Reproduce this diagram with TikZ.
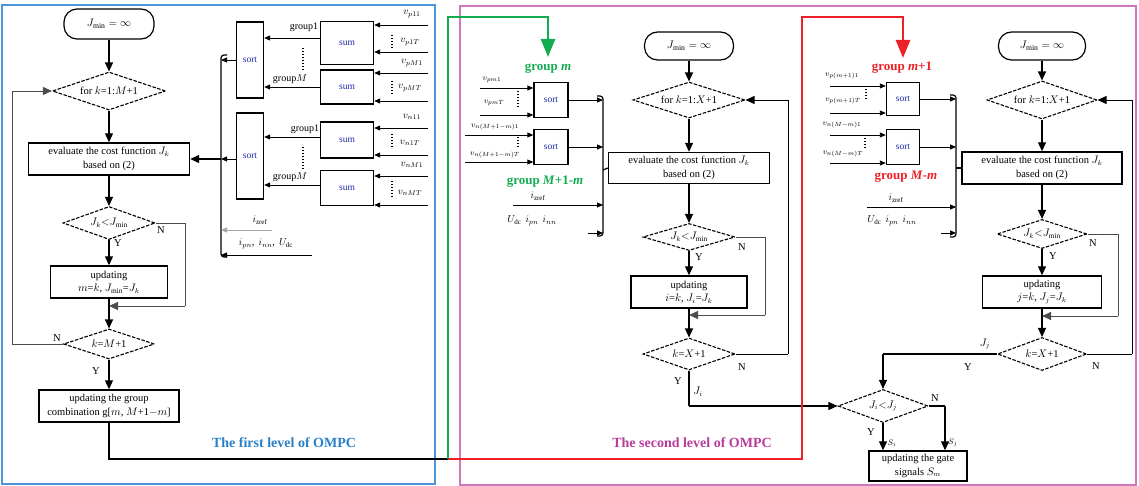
\documentclass[tikz,border=0pt]{standalone}
\usepackage{fontspec}
\setmainfont{Liberation Serif}
\usetikzlibrary{shapes.geometric,arrows.meta,calc}
\newcommand\fsz[2]{\fontsize{#1}{#2}\selectfont}
\definecolor{lvlblue}{RGB}{75,150,218}
\definecolor{lvlpink}{RGB}{208,120,190}
\definecolor{grpgreen}{RGB}{20,172,80}
\definecolor{grpred}{RGB}{236,32,38}
\definecolor{txtblue}{RGB}{40,128,200}
\definecolor{txtpink}{RGB}{185,60,155}
\definecolor{boxtext}{RGB}{30,40,170}
\begin{document}
\begin{tikzpicture}[x=1pt,y=-1pt,
  flow/.style={draw, line width=1.4pt, align=center, inner sep=1pt, font=\fsz{10.5}{13.5}},
  term/.style={draw, line width=1.2pt, rounded corners=13pt, inner sep=1pt, font=\fsz{11}{13}},
  dec/.style={draw, diamond, aspect=3, inner sep=0pt, line width=1.1pt, dash pattern=on 3.5pt off 1.5pt, font=\fsz{10.5}{12}},
  blk/.style={draw, line width=1.4pt, inner sep=0pt, font=\fsz{9.5}{10}, text=boxtext},
  arr/.style={-{Triangle[length=9pt,width=8pt]}, line width=1.2pt},
  sarr/.style={-{Triangle[length=6pt,width=5pt]}, line width=0.9pt},
  fb/.style={line width=0.8pt, draw=black!70},
  lbl/.style={inner sep=0pt, font=\fsz{10.5}{12}},
  vlbl/.style={inner sep=0pt, font=\fsz{10}{11}},
  slbl/.style={inner sep=0pt, font=\fsz{8.5}{9}},
  grplbl/.style={inner sep=0pt, font=\bfseries\fsz{13}{15}},
  vdots/.style={line width=1.2pt, dash pattern=on 1.5pt off 1.5pt},
  brk/.style={line width=1.2pt, rounded corners=3pt},
  bigarr/.style={line width=2.6pt, -{Triangle[length=18pt,width=14pt]}},
]
\useasboundingbox (0,0) rectangle (1139,486);

% level frames
\draw[lvlblue, line width=1.8pt] (2,5) rectangle (435,484);
\draw[lvlpink, line width=1.8pt] (460,6) rectangle (1136,485);

% ---------------- first level: flow chart ----------------
\node[term, minimum width=90pt, minimum height=30pt] (t1) at (109,24) {$J_{\min}=\infty$};
\node[dec, minimum width=113pt, minimum height=38pt] (d1a) at (109,91) {for $k$=1:$M$+1};
\node[flow, minimum width=161pt, minimum height=32pt] (p1a) at (109,159) {evaluate the cost function $J_k$\\based on (2)};
\node[dec, minimum width=92pt, minimum height=33pt] (d1b) at (109,223) {$J_k{<}J_{\min}$};
\node[flow, minimum width=117pt, minimum height=32pt] (p1b) at (109,282) {updating\\$m$=$k$, $J_{\min}$=$J_k$};
\node[dec, minimum width=91pt, minimum height=30pt] (d1c) at (109,344) {$k$=$M$+1};
\node[flow, minimum width=140pt, minimum height=32pt] (p1c) at (109,406) {updating the group\\combination g[$m$, $M$+1$-m$]};

\draw[arr] (t1) -- (d1a);
\draw[arr] (d1a) -- (p1a);
\draw[arr] (p1a) -- (d1b);
\draw[arr] (d1b) -- (p1b);
\coordinate (m1) at (109,306);
\draw[line width=1.2pt] (p1b) -- (m1);
\draw[arr] (m1) -- (d1c);
\coordinate (f1) at (185,306);
\draw[fb] (d1b.east) -| (f1);
\draw[fb, arr, line width=0.8pt] (f1) -- (m1);
\coordinate (f2) at (12,344);
\draw[fb] (d1c.west) -- (f2);
\draw[fb, arr, line width=0.8pt] (f2) |- (d1a.west);
\draw[arr] (d1c) -- (p1c);
\node[lbl] at (161,230) {N};
\node[lbl] at (118,243) {Y};
\node[lbl] at (57,338) {N};
\node[lbl] at (96,371) {Y};

% ---------------- first level: sum / sort blocks ----------------
\node[blk, minimum width=27pt, minimum height=76pt] (s1a) at (250,60) {sort};
\node[blk, minimum width=27pt, minimum height=86pt] (s1b) at (250,156) {sort};
\node[blk, minimum width=53pt, minimum height=43pt] (u1) at (347,43) {sum};
\node[blk, minimum width=53pt, minimum height=34pt] (u2) at (347,87) {sum};
\node[blk, minimum width=53pt, minimum height=36pt] (u3) at (347,140) {sum};
\node[blk, minimum width=53pt, minimum height=35pt] (u4) at (347,188) {sum};

\draw[sarr] (u1.west |- 0,38) -- (s1a.east |- 0,38);
\draw[sarr] (u2.west |- 0,87) -- (s1a.east |- 0,87);
\draw[sarr] (u3.west |- 0,137) -- (s1b.east |- 0,137);
\draw[sarr] (u4.west |- 0,185) -- (s1b.east |- 0,185);
\node[vlbl] at (304,27) {group1};
\node[vlbl] at (290,79) {group$M$};
\node[vlbl] at (305,129) {group1};
\node[vlbl] at (290,177) {group$M$};
\draw[vdots] (303,48) -- (303,70);
\draw[vdots] (303,147) -- (303,170);

\foreach \n/\y in {u1/25, u1/52, u2/73, u2/101, u3/128, u3/155, u4/176, u4/205} {
  \coordinate (in) at (428,\y);
  \draw[sarr] (in) -- (\n.east |- in);
}
\node[vlbl] at (412,14) {$v_{p11}$};
\node[vlbl] at (410,42) {$v_{p1T}$};
\node[vlbl] at (412,63) {$v_{pM1}$};
\node[vlbl] at (410,88) {$v_{pMT}$};
\node[vlbl] at (412,117) {$v_{n11}$};
\node[vlbl] at (410,143) {$v_{n1T}$};
\node[vlbl] at (412,165) {$v_{nM1}$};
\node[vlbl] at (410,193) {$v_{nMT}$};
\draw[vdots] (392,35) -- (392,48);
\draw[vdots] (392,81) -- (392,95);
\draw[vdots] (392,134) -- (392,149);
\draw[vdots] (392,181) -- (392,197);

% collecting bracket of the first level
\draw[brk] (227,55) -- (221,55) -- (221,257) -- (227,257);
\coordinate (k1a) at (221,60);
\coordinate (k1b) at (221,159);
\coordinate (k1c) at (221,230);
\coordinate (k1d) at (221,255);
\draw[sarr] (s1a.west |- k1a) -- (k1a);
\draw[sarr] (s1b.west |- k1b) -- (k1b);
\draw[arr] (k1b) -- (p1a.east);
\coordinate (ir1) at (272,230);
\draw[sarr, draw=black!35] (ir1) -- (k1c);
\node[vlbl] at (260,220) {$i_{\mathrm{zref}}$};
\coordinate (iu1) at (312,255);
\draw[sarr] (iu1) -- (k1d);
\node[vlbl] at (266,244) {$i_{pn}$,\, $i_{nn}$,\, $U_{\mathrm{dc}}$};

% ---------------- second level: sort blocks (group m) ----------------
\node[blk, minimum width=34pt, minimum height=35pt] (s2a) at (551,100) {sort};
\node[blk, minimum width=34pt, minimum height=35pt] (s2b) at (551,147) {sort};
\foreach \n/\x/\y in {s2a/480/88, s2a/480/115, s2b/465/135, s2b/465/162} {
  \coordinate (in) at (\x,\y);
  \draw[sarr] (in) -- (\n.west |- in);
}
\node[slbl] at (492,80) {$v_{pm1}$};
\node[slbl] at (494,103) {$v_{pmT}$};
\node[slbl] at (495,127) {$v_{n(M+1-m)1}$};
\node[slbl] at (495,155) {$v_{n(M+1-m)T}$};
\draw[vdots] (518,91) -- (518,107);
\draw[vdots] (518,137) -- (518,149);
\node[grplbl, text=grpgreen] at (548,69) {group \textit{m}};
\node[grplbl, text=grpgreen] at (545,182) {group \textit{M}+1-\textit{m}};

\draw[brk] (597,96) -- (603,96) -- (603,236) -- (597,236);
\coordinate (k2a) at (603,100);
\coordinate (k2b) at (603,147);
\coordinate (k2o) at (603,170);
\coordinate (k2c) at (603,205);
\coordinate (k2d) at (603,233);
\draw[sarr] (s2a.east |- k2a) -- (k2a);
\draw[sarr] (s2b.east |- k2b) -- (k2b);
\coordinate (iz2) at (513,205);
\draw[sarr] (iz2) -- (k2c);
\node[vlbl] at (538,196) {$i_{\mathrm{zref}}$};
\coordinate (iu2) at (588,233);
\draw[sarr] (iu2) -- (k2d);
\node[vlbl] at (532,221) {$U_{\mathrm{dc}}$\, $i_{pn}$\, $i_{nn}$};

% ---------------- second level: flow chart for group m ----------------
\node[term, minimum width=89pt, minimum height=28pt] (t2) at (689,46) {$J_{\min}=\infty$};
\node[dec, minimum width=112pt, minimum height=36pt] (d2a) at (689,100) {for $k$=1:$X$+1};
\node[flow, minimum width=161pt, minimum height=31pt] (p2a) at (689,168) {evaluate the cost function $J_k$\\based on (2)};
\node[dec, minimum width=92pt, minimum height=27pt] (d2b) at (689,237) {$J_k{<}J_{\min}$};
\node[flow, minimum width=116pt, minimum height=32pt] (p2b) at (689,292) {updating\\$i$=$k$, $J_i$=$J_k$};
\node[dec, minimum width=92pt, minimum height=32pt] (d2c) at (689,354) {$k$=$X$+1};

\draw[line width=1.2pt] (k2o) -- (p2a.west);
\draw[arr] (t2) -- (d2a);
\draw[arr] (d2a) -- (p2a);
\draw[arr] (p2a) -- (d2b);
\draw[arr] (d2b) -- (p2b);
\coordinate (m2) at (689,315);
\draw[line width=1.2pt] (p2b) -- (m2);
\draw[arr] (m2) -- (d2c);
\coordinate (f3) at (765,315);
\draw[fb] (d2b.east) -| (f3);
\draw[fb, arr, line width=0.8pt] (f3) -- (m2);
\coordinate (f4) at (788,354);
\draw[line width=0.9pt] (d2c.east) -- (f4);
\draw[arr, line width=0.9pt] (f4) |- (d2a.east);
\node[lbl] at (742,247) {N};
\node[lbl] at (699,257) {Y};
\node[lbl] at (742,367) {N};
\node[lbl] at (678,381) {Y};

% ---------------- second level: sort blocks (group m+1) ----------------
\node[blk, minimum width=33pt, minimum height=33pt] (s3a) at (903,99) {sort};
\node[blk, minimum width=33pt, minimum height=35pt] (s3b) at (903,147) {sort};
\foreach \n/\y in {s3a/86, s3a/113, s3b/135, s3b/163} {
  \coordinate (in) at (830,\y);
  \draw[sarr] (in) -- (\n.west |- in);
}
\node[slbl] at (842,76) {$v_{p(m+1)1}$};
\node[slbl] at (843,101) {$v_{p(m+1)T}$};
\node[slbl] at (842,125) {$v_{n(M-m)1}$};
\node[slbl] at (843,154) {$v_{n(M-m)T}$};
\draw[vdots] (866,86) -- (866,100);
\draw[vdots] (865,138) -- (865,149);
\node[grplbl, text=grpred] at (902,68) {group \textit{m}+1};
\node[grplbl, text=grpred] at (906,177) {group \textit{M}-\textit{m}};

\draw[brk] (950,95) -- (956,95) -- (956,237) -- (950,237);
\coordinate (k3a) at (956,99);
\coordinate (k3b) at (956,147);
\coordinate (k3o) at (956,168);
\coordinate (k3c) at (956,207);
\coordinate (k3d) at (956,233);
\draw[sarr] (s3a.east |- k3a) -- (k3a);
\draw[sarr] (s3b.east |- k3b) -- (k3b);
\coordinate (iz3) at (867,207);
\draw[sarr] (iz3) -- (k3c);
\node[vlbl] at (896,198) {$i_{\mathrm{zref}}$};
\coordinate (iu3) at (941,233);
\draw[sarr] (iu3) -- (k3d);
\node[vlbl] at (892,221) {$U_{\mathrm{dc}}$\, $i_{pn}$\, $i_{nn}$};

% ---------------- second level: flow chart for group m+1 ----------------
\node[term, minimum width=87pt, minimum height=28pt] (t3) at (1042,46) {$J_{\min}=\infty$};
\node[dec, minimum width=110pt, minimum height=38pt] (d3a) at (1042,100) {for $k$=1:$X$+1};
\node[flow, minimum width=160pt, minimum height=32pt] (p3a) at (1042,168) {evaluate the cost function $J_k$\\based on (2)};
\node[dec, minimum width=90pt, minimum height=29pt] (d3b) at (1042,234) {$J_k{<}J_{\min}$};
\node[flow, minimum width=119pt, minimum height=32pt] (p3b) at (1042,292) {updating\\$j$=$k$, $J_j$=$J_k$};
\node[dec, minimum width=89pt, minimum height=33pt] (d3c) at (1042,354) {$k$=$X$+1};

\draw[line width=1.2pt] (k3o) -- (p3a.west);
\draw[arr] (t3) -- (d3a);
\draw[arr] (d3a) -- (p3a);
\draw[arr] (p3a) -- (d3b);
\draw[arr] (d3b) -- (p3b);
\coordinate (m3) at (1042,316);
\draw[line width=1.2pt] (p3b) -- (m3);
\draw[arr] (m3) -- (d3c);
\coordinate (f5) at (1118,316);
\draw[fb] (d3b.east) -| (f5);
\draw[fb, arr, line width=0.8pt] (f5) -- (m3);
\coordinate (f6) at (1132,354);
\draw[line width=0.9pt] (d3c.east) -- (f6);
\draw[arr, line width=0.9pt] (f6) |- (d3a.east);
\node[lbl] at (1093,243) {N};
\node[lbl] at (1053,256) {Y};
\node[lbl] at (1096,366) {N};

% ---------------- final comparison ----------------
\node[dec, minimum width=90pt, minimum height=33pt] (d4) at (883,406) {$J_i{<}J_j$};
\node[flow, minimum width=98pt, minimum height=30pt] (p4) at (918,466) {updating the gate\\signals $S_m$};

\coordinate (c2) at (689,406);
\draw[line width=1.2pt] (d2c.south) -- (c2);
\draw[arr] (c2) -- (d4.west);
\node[lbl] at (698,392) {$J_i$};
\coordinate (c3) at (883,354);
\draw[line width=1.2pt] (d3c.west) -- (c3);
\draw[arr] (c3) -- (d4.north);
\node[lbl] at (985,344) {$J_j$};
\node[lbl] at (968,367) {Y};
\draw[arr] (d4.south) -- (p4.north -| d4.south);
\coordinate (e4) at (945,406);
\draw[line width=1.2pt] (d4.east) -- (e4);
\draw[arr] (e4) -- (p4.north -| e4);
\node[lbl] at (935,398) {N};
\node[lbl] at (871,432) {Y};
\node[slbl] at (892,443) {$S_i$};
\node[slbl] at (953,443) {$S_j$};

% ---------------- level titles ----------------
\node[inner sep=0pt, font=\bfseries\fsz{14}{16}, text=txtblue] at (284,443) {The first level of OMPC};
\node[inner sep=0pt, font=\bfseries\fsz{14}{16}, text=txtpink] at (692,443) {The second level of OMPC};

% ---------------- hand-over paths between levels ----------------
\coordinate (b1) at (109,459);
\coordinate (jn) at (448,459);
\draw[line width=2.2pt] (p1c) -- (b1) -- (jn);
\coordinate (g1) at (448,17);
\coordinate (g2) at (548,17);
\coordinate (ga) at (548,57);
\draw[grpgreen, bigarr] (jn) -- (g1) -- (g2) -- (ga);
\coordinate (r1) at (802,459);
\coordinate (r2) at (802,17);
\coordinate (r3) at (903,17);
\coordinate (ra) at (903,58);
\draw[grpred, bigarr] (jn) -- (r1) -- (r2) -- (r3) -- (ra);
\end{tikzpicture}
\end{document}
